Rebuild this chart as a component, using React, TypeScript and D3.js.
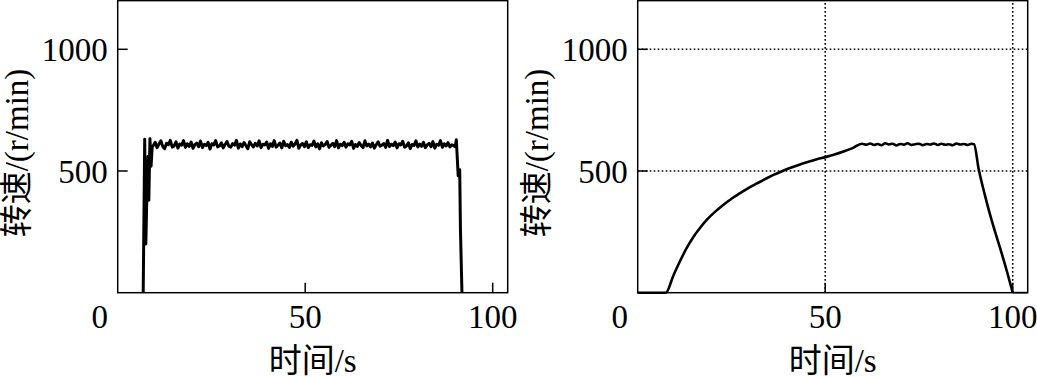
import React from "react";
import * as d3 from "d3";

// ---- data ----
const xTicks = [50, 100];
const yTicks = [500, 1000];
const xLabel = "时间/s";
const yLabel = "转速/(r/min)";

// Left panel: speed step response (noisy plateau)
const leftRiseT = [6.8, 7.2, 7.5, 7.8, 8.1, 8.3, 8.6, 8.9, 9.2];
const leftRiseV = [0, 630, 200, 420, 560, 380, 632, 520, 600];
const leftPlateauStart = 9.5;
const leftPlateauEnd = 89.6;
const leftPlateauV = [
  605, 618, 596, 611, 624, 600, 592, 614, 608, 626, 598, 603, 620, 594, 611, 606, 625, 597, 612, 601,
  619, 593, 608, 615, 600, 623, 596, 610, 604, 618, 590, 612, 607, 625, 599, 603, 616, 595, 609, 621,
  602, 598, 613, 606, 626, 594, 611, 600, 617, 605, 592, 620, 608, 599, 614, 603, 624, 596, 610, 607,
  619, 593, 612, 601, 625, 598, 606, 615, 595, 622, 604, 609, 597, 618, 602, 611, 626, 594, 607, 613,
  600, 620, 596, 608, 605, 623, 599, 612, 591, 616, 603, 609, 621, 597, 606, 614, 600, 625, 595, 610,
  604, 618, 598, 612, 607, 622, 593, 609, 601, 617, 605, 596, 624, 603, 611, 599, 615, 594, 608, 620,
  602, 606, 613, 597, 626, 600, 610, 604, 619, 595, 612, 607, 622, 598, 603, 616, 592, 609, 605, 624,
  599, 611, 601, 618, 596, 607, 614, 600, 621, 594, 610, 606, 625, 597, 612, 603, 617, 599, 608, 604,
];
const leftFallT = [90.0, 90.3, 90.5, 90.8, 91.0, 91.2, 91.4, 91.8];
const leftFallV = [600, 628, 570, 480, 505, 505, 260, 0];

// Right panel: gradual acceleration
const rightT = [
  0, 7.5, 9.5, 11.3, 13, 14.8, 16.6, 18.4, 20.6, 22.8, 25, 27.3, 29.5, 31.8, 34, 36.2, 38.5, 40.6, 43.3,
  46, 48, 50, 52.5, 54.9, 57.3, 59.8, 61, 62, 63, 64, 65, 66, 67, 68, 69, 70, 71, 72, 73, 74, 75, 76, 77,
  78, 79, 80, 81, 82, 83, 84, 85, 86, 87, 88, 89, 89.7, 90.9, 92.6, 94.3, 95.7, 97.1, 98.6, 100,
];
const rightV = [
  0, 0, 70, 130, 182, 228, 266, 299, 332, 360, 386, 409, 430, 449, 467, 484, 499, 512, 527,
  540, 549, 557, 568, 580, 594, 612, 608, 613, 607, 611, 606, 614, 609, 612, 605, 611, 608, 614, 607, 610,
  612, 606, 611, 609, 613, 607, 612, 608, 610, 606, 613, 609, 611, 607, 612, 610, 510, 400, 302, 230, 160, 80, 0,
];
const blueT = [100, 104];
const blueV = [0, 0];

// ---- layout ----
const W = 1037;
const H = 377;
const PLOT_L = 117.7;
const PLOT_W = 390;
const PLOT_B = 292.7;
const PANEL_DX = 520;
const FONT = "'Liberation Serif', 'Times New Roman', 'Noto Sans CJK SC', serif";

type Pt = [number, number];

function zip(t: number[], v: number[]): Pt[] {
  return t.map((tt, i) => [tt, v[i]] as Pt);
}

type Series = { pts: Pt[]; color: string; width: number; smooth?: boolean };

function Panel({ dx, series, grid }: { dx: number; series: Series[]; grid: boolean }) {
  const x = d3.scaleLinear().domain([0, 104]).range([dx + PLOT_L, dx + PLOT_L + PLOT_W]);
  const y = d3.scaleLinear().domain([0, 1200]).range([PLOT_B, PLOT_B - 1200 * (121.7 / 500)]);
  const [x0, x1] = x.range();
  const [y0, y1] = y.range();
  const tickLen = 10;
  return (
    <g>
      {grid &&
        xTicks.map((t) => (
          <line key={"gx" + t} x1={x(t)} x2={x(t)} y1={y0} y2={y1} stroke="#000" strokeWidth={1.5} strokeDasharray="1.6 2.4" />
        ))}
      {grid &&
        yTicks.map((t) => (
          <line key={"gy" + t} x1={x0} x2={x1} y1={y(t)} y2={y(t)} stroke="#000" strokeWidth={1.5} strokeDasharray="1.6 2.4" />
        ))}
      {series.map((s, i) => {
        const line = d3
          .line<Pt>()
          .x((d) => x(d[0]))
          .y((d) => y(d[1]))
          .curve(s.smooth ? d3.curveMonotoneX : d3.curveLinear);
        return (
          <path key={i} d={line(s.pts) || ""} fill="none" stroke={s.color} strokeWidth={s.width} strokeLinejoin="round" />
        );
      })}
      <rect x={x0} y={y1} width={x1 - x0} height={y0 - y1} fill="none" stroke="#000" strokeWidth={1.5} />
      {xTicks.map((t) => (
        <line key={"tx" + t} x1={x(t)} x2={x(t)} y1={y0} y2={y0 - tickLen} stroke="#000" strokeWidth={1.5} />
      ))}
      {yTicks.map((t) => (
        <line key={"ty" + t} x1={x0} x2={x0 + tickLen} y1={y(t)} y2={y(t)} stroke="#000" strokeWidth={1.5} />
      ))}
      <text x={x(0) - 18} y={328} textAnchor="middle" fontSize={33} fontFamily={FONT}>
        0
      </text>
      {xTicks.map((t) => (
        <text key={"lx" + t} x={x(t)} y={328} textAnchor="middle" fontSize={33} fontFamily={FONT}>
          {t}
        </text>
      ))}
      {yTicks.map((t) => (
        <text key={"ly" + t} x={x0 - 10} y={y(t) + 11.5} textAnchor="end" fontSize={33} fontFamily={FONT}>
          {t}
        </text>
      ))}
      <text x={(x0 + x1) / 2} y={372} textAnchor="middle" fontSize={33} fontFamily={FONT}>
        {xLabel}
      </text>
      <text
        transform={`translate(${dx + 17},${153}) rotate(-90)`}
        textAnchor="middle"
        dominantBaseline="central"
        fontSize={33}
        fontFamily={FONT}
      >
        {yLabel}
      </text>
    </g>
  );
}

export default function App() {
  const n = leftPlateauV.length;
  const step = (leftPlateauEnd - leftPlateauStart) / (n - 1);
  const leftPts: Pt[] = [
    ...zip(leftRiseT, leftRiseV),
    ...leftPlateauV.map((v, i) => [leftPlateauStart + i * step, v] as Pt),
    ...zip(leftFallT, leftFallV),
  ];
  const rightPts = zip(rightT, rightV);
  const bluePts = zip(blueT, blueV);
  return (
    <svg width={W} height={H} style={{ position: "absolute", left: 0, top: 0, background: "#fff" }}>
      <rect width={W} height={H} fill="#fff" />
      <Panel dx={0} grid={false} series={[{ pts: leftPts, color: "#000", width: 3 }]} />
      <Panel
        dx={PANEL_DX}
        grid={true}
        series={[
          { pts: rightPts, color: "#000", width: 2.6, smooth: true },
          { pts: bluePts, color: "#4a78d0", width: 2 },
        ]}
      />
    </svg>
  );
}
